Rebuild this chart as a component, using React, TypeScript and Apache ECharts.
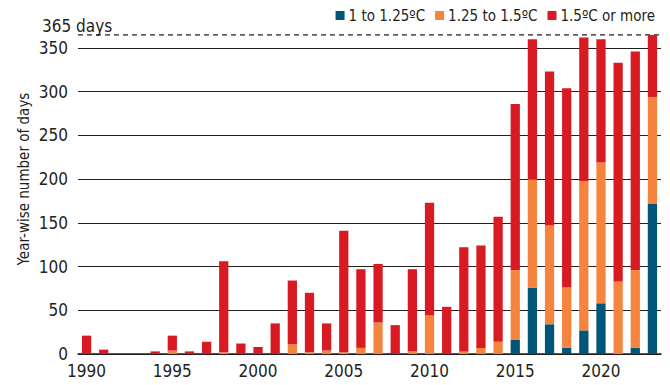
import React, { useEffect, useRef } from "react";
import * as echarts from "echarts";

const years: string[] = [
  "1990", "1991", "1992", "1993", "1994", "1995", "1996", "1997", "1998", "1999",
  "2000", "2001", "2002", "2003", "2004", "2005", "2006", "2007", "2008", "2009",
  "2010", "2011", "2012", "2013", "2014", "2015", "2016", "2017", "2018", "2019",
  "2020", "2021", "2022", "2023",
];

const days1to125: number[] = [
  0, 0, 0, 0, 0, 0, 0, 0, 0, 0,
  0, 0, 0, 0, 0, 0, 0, 0, 0, 0,
  0, 0, 0, 0, 0, 16, 76, 34, 7, 27,
  58, 0, 7, 172,
];

const days125to15: number[] = [
  0, 0, 0, 0, 0, 4, 0, 0, 2, 0,
  0, 0, 11, 2, 4, 2, 7, 36, 0, 3,
  44, 0, 3, 7, 14, 80, 124, 113, 69, 171,
  161, 83, 89, 122,
];

const days15plus: number[] = [
  21, 5, 0, 0, 3, 17, 3, 14, 104, 12,
  8, 35, 73, 68, 31, 139, 90, 67, 33, 94,
  129, 54, 119, 117, 143, 190, 160, 176, 228, 164,
  141, 250, 250, 71,
];

const seriesNames: string[] = ["1 to 1.25ºC", "1.25 to 1.5ºC", "1.5ºC or more"];
const seriesColors: string[] = ["#005578", "#F5843F", "#D81B22"];
const yTicks = { min: 0, max: 350, interval: 50 };
const fullYear = 365;
const yAxisTitle = "Year-wise number of days";
const fullYearLabel = "365 days";

const FONT = "'Liberation Sans Narrow', 'DejaVu Sans Condensed', 'Arial Narrow', sans-serif";
const INK = "#231F20";
const GRID = { left: 78, right: 9, top: 48, bottom: 31 };
const W = 670;
const H = 385;

export default function App() {
  const ref = useRef<HTMLDivElement | null>(null);

  useEffect(() => {
    if (!ref.current) return;
    const chart = echarts.init(ref.current, undefined, { renderer: "svg" });
    const data = [days1to125, days125to15, days15plus];
    chart.setOption({
      animation: false,
      backgroundColor: "#ffffff",
      textStyle: { fontFamily: FONT, color: INK },
      grid: { ...GRID, containLabel: false },
      legend: {
        right: 10,
        top: 3,
        itemWidth: 9,
        itemHeight: 9,
        itemGap: 10,
        icon: "rect",
        textStyle: { fontFamily: FONT, fontSize: 15, color: INK, padding: [0, 0, 0, -1] },
        data: seriesNames,
      },
      xAxis: {
        type: "category",
        data: years,
        axisLine: { show: true, lineStyle: { color: INK, width: 1.5 } },
        axisTick: { show: false },
        axisLabel: {
          interval: 4,
          margin: 8,
          fontSize: 17,
          fontFamily: FONT,
          color: INK,
        },
      },
      yAxis: {
        type: "value",
        min: yTicks.min,
        max: yTicks.max,
        interval: yTicks.interval,
        axisLine: { show: false },
        axisTick: { show: false },
        axisLabel: { margin: 10, fontSize: 17, fontFamily: FONT, color: INK },
        splitLine: { show: true, lineStyle: { color: INK, width: 1.2 } },
      },
      series: seriesNames.map((name, i) => ({
        name,
        type: "bar",
        stack: "days",
        data: data[i],
        barWidth: "54%",
        clip: false,
        itemStyle: { color: seriesColors[i] },
        emphasis: { disabled: true },
      })),
    });

    const yFull = chart.convertToPixel({ yAxisIndex: 0 }, fullYear) as number;
    chart.setOption({
      graphic: [
        {
          type: "line",
          silent: true,
          shape: { x1: GRID.left, y1: yFull, x2: W - GRID.right, y2: yFull },
          style: { stroke: INK, lineWidth: 1.2, lineDash: [5, 4] },
        },
        {
          type: "text",
          x: 24,
          y: 179,
          rotation: Math.PI / 2,
          style: {
            text: yAxisTitle,
            fontFamily: FONT,
            fontSize: 15,
            fill: INK,
            align: "center",
            verticalAlign: "middle",
          },
        },
        {
          type: "text",
          x: 42,
          y: yFull - 9,
          style: {
            text: fullYearLabel,
            fontFamily: FONT,
            fontSize: 17,
            fill: INK,
            align: "left",
            verticalAlign: "middle",
          },
        },
      ],
    });
    return () => chart.dispose();
  }, []);

  return (
    <div
      ref={ref}
      style={{ position: "fixed", left: 0, top: 0, width: W, height: H }}
    />
  );
}
